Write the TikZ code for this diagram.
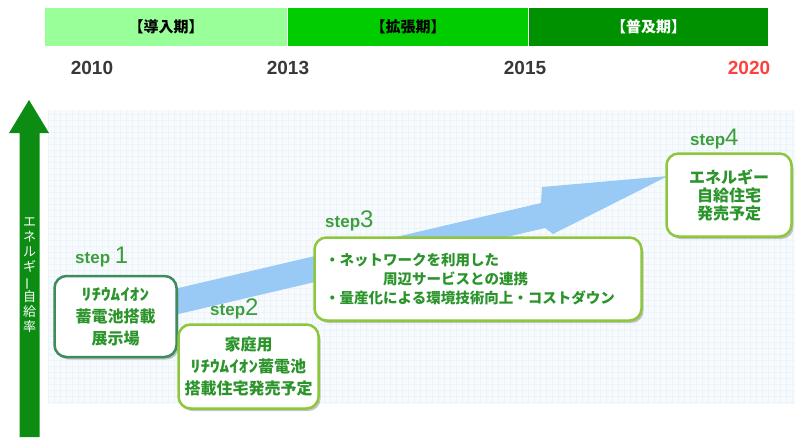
\documentclass[tikz,border=0pt]{standalone}
\usepackage{fontspec}
\setmainfont{Liberation Sans}
\newfontfamily\jpfont{Noto Sans CJK JP}
\usetikzlibrary{shadows}

\definecolor{phaseone}{rgb}{0.60,1.00,0.60}
\definecolor{phasetwo}{rgb}{0.00,0.80,0.00}
\definecolor{phasethree}{rgb}{0.00,0.57,0.00}
\definecolor{yeargrey}{rgb}{0.22,0.22,0.22}
\definecolor{yearred}{rgb}{1.00,0.25,0.25}
\definecolor{axisgreen}{rgb}{0.05,0.55,0.08}
\definecolor{gridbg}{rgb}{0.97,0.985,0.995}
\definecolor{gridline}{rgb}{0.925,0.955,0.98}
\definecolor{flowblue}{rgb}{0.60,0.79,0.96}
\definecolor{darkline}{rgb}{0.24,0.55,0.37}
\definecolor{limeline}{rgb}{0.55,0.78,0.24}
\definecolor{boxtext}{rgb}{0.17,0.58,0.17}
\definecolor{steptext}{rgb}{0.24,0.62,0.24}

\newcommand{\hankaku}[1]{\scalebox{1.2}[1]{#1}}

\begin{document}
\begin{tikzpicture}[x=1pt,y=-1pt,>=latex,line join=bevel,
    stepbox/.style={draw=limeline,line width=2.5pt,rounded corners=12pt,fill=white,
      drop shadow={shadow xshift=2pt,shadow yshift=-2.5pt,fill=black!45,opacity=0.5},
      text=boxtext,align=center,inner sep=0pt,
      font=\jpfont\bfseries\fontsize{16}{22}\selectfont},
    steplabel/.style={text=steptext,anchor=base west,inner sep=0pt,
      font=\bfseries\fontsize{17}{17}\selectfont},
    phase/.style={minimum height=38pt,inner sep=0pt,
      font=\jpfont\bfseries\fontsize{15}{15}\selectfont},
    year/.style={text=yeargrey,inner sep=0pt,font=\bfseries\fontsize{19}{19}\selectfont},
  ]
  \useasboundingbox (0,0) rectangle (799,437);
  %%
  % Phases
  \node[phase,fill=phaseone,minimum width=242pt] (intro) at (166,27) {【導入期】};
  \node[phase,fill=phasetwo,minimum width=240pt] (expand) at (408,27) {【拡張期】};
  \node[phase,fill=phasethree,minimum width=239pt,text=white] (spread) at (648.5,27) {【普及期】};
  % Years
  \node[year] (y2010) at (92,68) {2010};
  \node[year] (y2013) at (288,68) {2013};
  \node[year] (y2015) at (525,68) {2015};
  \node[year,text=yearred] (y2020) at (749,68) {2020};
  % Background grid
  \fill[gridbg] (48,110) rectangle (795,404);
  \draw[gridline,line width=0.5pt,step=6pt] (48,110) grid (795,404);
  % Axis arrow
  \fill[axisgreen] (19.5,437) -- (19.5,133) -- (9,133) -- (29,100) -- (49,133) -- (39.5,133) -- (39.5,437) -- cycle;
  \node[text=white,align=center,inner sep=0pt,
    font=\jpfont\fontsize{13}{15}\selectfont] (rate) at (29.5,275)
    {エ\\ネ\\ル\\ギ\\\rotatebox[origin=c]{90}{ー}\\自\\給\\率};
  % Flow arrow
  \fill[flowblue] (170,290) -- (541,203) -- (542,187) -- (668,176) -- (553,234)
    -- (545,228) -- (170,316) -- cycle;
  % Node: step1
  \node[stepbox,draw=darkline,minimum width=122pt,minimum height=81pt] (step1) at (115.5,316.5)
    {\hankaku{ﾘﾁｳﾑｲｵﾝ}\\蓄電池搭載\\展示場};
  \node[steplabel] (lab1) at (75,263) {step {\mdseries\fontsize{24}{24}\selectfont 1}};
  % Node: step2
  \node[stepbox,minimum width=140pt,minimum height=84pt] (step2) at (248.5,366.5)
    {家庭用\\\hankaku{ﾘﾁｳﾑｲｵﾝ}蓄電池\\搭載住宅発売予定};
  \node[steplabel] (lab2) at (210,315) {step{\mdseries\fontsize{24}{24}\selectfont 2}};
  % Node: step3
  \node[stepbox,align=left,minimum width=327pt,minimum height=83pt,
    font=\jpfont\bfseries\fontsize{14.5}{19}\selectfont] (step3) at (478,279)
    {・ネットワークを利用した\\\hspace*{4em}周辺サービスとの連携\\・量産化による環境技術向上・コストダウン\hspace*{16pt}};
  \node[steplabel] (lab3) at (325,227) {step{\mdseries\fontsize{24}{24}\selectfont 3}};
  % Node: step4
  \node[stepbox,minimum width=125pt,minimum height=83pt,
    font=\jpfont\bfseries\fontsize{16}{18}\selectfont] (step4) at (729,195)
    {エネルギー\\自給住宅\\発売予定};
  \node[steplabel] (lab4) at (690,145) {step{\mdseries\fontsize{24}{24}\selectfont 4}};
  %
\end{tikzpicture}
\end{document}
